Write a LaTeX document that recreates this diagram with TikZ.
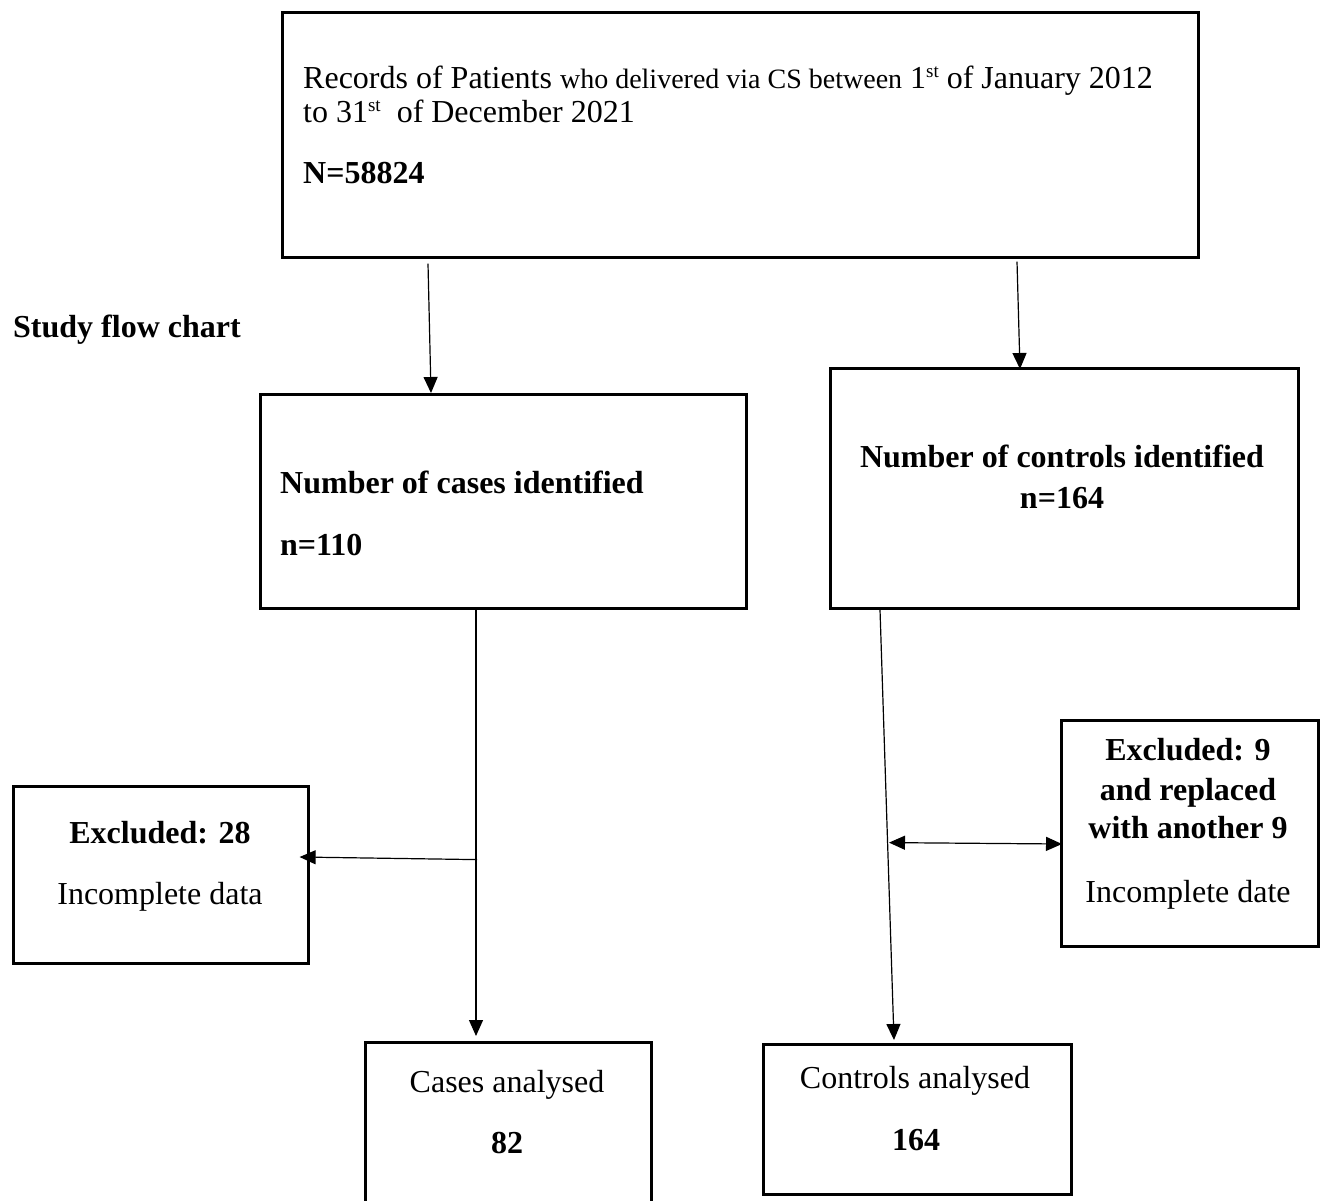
\documentclass[tikz,border=0pt]{standalone}
\usepackage{fontspec}
\setmainfont{Liberation Serif}
\usetikzlibrary{arrows.meta,calc}
\newcommand{\supst}{\raisebox{11pt}{\fontsize{19}{19}\selectfont st}}
\begin{document}
\begin{tikzpicture}[x=1pt,y=-1pt,
  box/.style={draw, line width=2.6pt, inner sep=0pt, anchor=north west},
  conn/.style={line width=1.2pt},
  arr/.style={conn, -{Triangle[length=16pt,width=14pt]}},
  darr/.style={conn, {Triangle[length=16pt,width=14pt]}-{Triangle[length=16pt,width=14pt]}},
  txt/.style={inner sep=0pt, font={\fontsize{32}{38}\selectfont}},
  btxt/.style={inner sep=0pt, font={\fontsize{32}{38}\selectfont\bfseries}},
]
\useasboundingbox (0,0) rectangle (1322,1200);
\clip (0,0) rectangle (1322,1200);
\fill[white] (0,0) rectangle (1322,1200);

% boxes
\node[box, minimum width=916pt, minimum height=245pt] (top) at (281,11) {};
\node[box, minimum width=486pt, minimum height=214pt] (cases) at (259,393) {};
\node[box, minimum width=468pt, minimum height=240pt] (ctrl) at (829,367) {};
\node[box, minimum width=295pt, minimum height=177pt] (ex28) at (12,785) {};
\node[box, minimum width=257pt, minimum height=226pt] (ex9) at (1060,719) {};
\node[box, minimum width=286pt, minimum height=200pt] (ca) at (364,1041) {};
\node[box, minimum width=308pt, minimum height=150pt] (cta) at (762,1043) {};

% texts
\node[txt, anchor=base west] (t1) at (303,88) {Records of Patients {\fontsize{28}{34}\selectfont who delivered via CS between} 1\supst\ of January 2012};
\node[txt, anchor=base west] (t2) at (303,122) {to 31\supst\ \ of December 2021};
\node[btxt, anchor=base west] (t3) at (303,183) {N=58824};
\node[btxt, anchor=base west] (sfc) at (13,337) {Study flow chart};
\node[btxt, anchor=base west] (c1) at (280,493) {Number of cases identified};
\node[btxt, anchor=base west] (c2) at (280,555) {n=110};
\node[btxt, anchor=base] (k1) at (1062,467) {Number of controls identified};
\node[btxt, anchor=base] (k2) at (1062,508) {n=164};
\node[btxt, anchor=base] (e1) at (160,843) {Excluded: 28};
\node[txt, anchor=base] (e2) at (160,904) {Incomplete data};
\node[btxt, anchor=base] (f1) at (1188,760) {Excluded: 9};
\node[btxt, anchor=base] (f2) at (1188,800) {and replaced};
\node[btxt, anchor=base] (f3) at (1188,838) {with another 9};
\node[txt, anchor=base] (f4) at (1188,902) {Incomplete date};
\node[txt, anchor=base] (g1) at (507,1092) {Cases analysed};
\node[btxt, anchor=base] (g2) at (507,1153) {82};
\node[txt, anchor=base] (h1) at (915,1088) {Controls analysed};
\node[btxt, anchor=base] (h2) at (916,1150) {164};

% connectors
\coordinate (a1s) at ($(top.south west)+(147,5)$);
\draw[arr] (a1s) -- ($(cases.north west)+(172,0)$);
\coordinate (a2s) at ($(top.south west)+(736,3)$);
\draw[arr] (a2s) -- ($(ctrl.north west)+(191,2)$);
\draw[arr] ($(cases.south west)+(217,0)$) -- ($(ca.north west)+(112,-5)$);
\coordinate (b1) at ($(cases.south west)+(218,250)$);
\draw[arr] (b1) -- ($(ex28.north east)+(-10,72)$);
\draw[arr] ($(ctrl.south west)+(51,0)$) -- ($(cta.north west)+(132,-3)$);
\draw[darr] ($(ctrl.south west)+(60,233)$) -- ($(ex9.north west)+(2,125)$);
\end{tikzpicture}
\end{document}
